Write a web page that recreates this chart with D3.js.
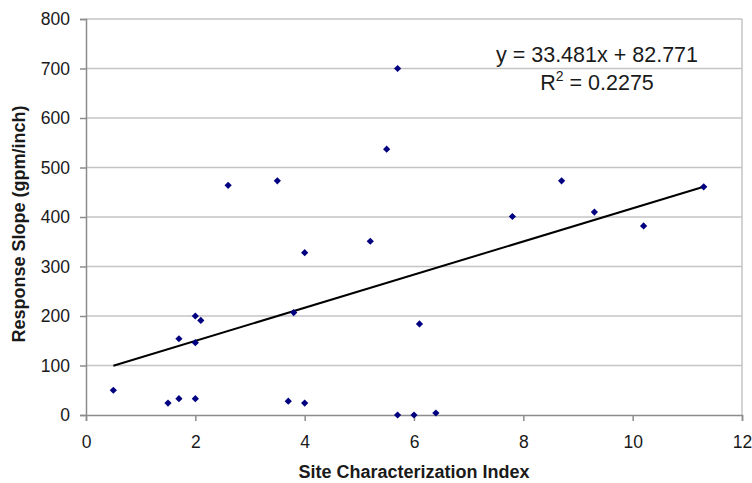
<!DOCTYPE html>
<html>
<head>
<meta charset="utf-8">
<script src="https://cdn.jsdelivr.net/npm/d3@7"></script>
<style>
  html, body { margin: 0; padding: 0; background: #fff; }
  svg { display: block; font-family: "Liberation Sans", Arial, sans-serif; }
</style>
</head>
<body>
<svg id="chart" width="752" height="483"></svg>
<script>
// Data
const xValues = [0.5, 1.5, 1.7, 2.0, 1.7, 2.0, 2.1, 2.0, 2.6, 3.5, 3.7, 3.8, 4.0, 4.0, 5.2, 5.5, 5.7, 5.7, 6.0, 6.1, 6.4, 7.8, 8.7, 9.3, 10.2, 11.3];
const yValues = [50, 24, 33, 33, 154, 200, 191, 146, 464, 473, 28, 207, 24, 328, 351, 537, 700, 0, 0, 184, 4, 401, 473, 410, 382, 461];
const trendSlope = [33.481];
const trendIntercept = [82.771];
const rSquared = ["0.2275"];
const xTicks = [0, 2, 4, 6, 8, 10, 12];
const yTicks = [0, 100, 200, 300, 400, 500, 600, 700, 800];
const xTitle = "Site Characterization Index";
const yTitle = "Response Slope (gpm/inch)";

const svg = d3.select("#chart");
const plot = { left: 86, right: 742, top: 19, bottom: 415 };

const x = d3.scaleLinear().domain([0, 12]).range([plot.left, plot.right]);
const y = d3.scaleLinear().domain([0, 800]).range([plot.bottom, plot.top]);

// Gridlines
svg.append("g")
  .selectAll("line")
  .data(yTicks.filter(d => d > 0))
  .join("line")
  .attr("x1", plot.left).attr("x2", plot.right)
  .attr("y1", d => y(d)).attr("y2", d => y(d))
  .attr("stroke", "#c4c4c4").attr("stroke-width", 1.5);

// Right border
svg.append("line")
  .attr("x1", plot.right).attr("x2", plot.right)
  .attr("y1", plot.top).attr("y2", plot.bottom)
  .attr("stroke", "#c4c4c4").attr("stroke-width", 1.5);

// Axes
const xAxis = d3.axisBottom(x).tickValues(xTicks).tickSize(6).tickPadding(10).tickFormat(d3.format("d"));
const yAxis = d3.axisLeft(y).tickValues(yTicks).tickSize(6).tickPadding(10).tickFormat(d3.format("d"));

const gx = svg.append("g").attr("transform", `translate(0,${plot.bottom})`).call(xAxis);
const gy = svg.append("g").attr("transform", `translate(${plot.left},0)`).call(yAxis);

[gx, gy].forEach(g => {
  g.select(".domain").attr("stroke", "#8c8c8c").attr("stroke-width", 1.5);
  g.selectAll(".tick line").attr("stroke", "#8c8c8c").attr("stroke-width", 1.5);
  g.selectAll(".tick text")
    .attr("fill", "#1a1a1a")
    .style("font-family", '"Liberation Sans", Arial, sans-serif')
    .style("font-size", "17.5px");
});
gx.selectAll(".tick text").attr("dy", "0.95em");

// Trend line across the data range
const xExt = d3.extent(xValues);
const line = d3.line().x(d => x(d)).y(d => y(trendSlope[0] * d + trendIntercept[0]));
svg.append("path")
  .datum(xExt)
  .attr("d", line)
  .attr("fill", "none")
  .attr("stroke", "#000")
  .attr("stroke-width", 2);

// Points (diamonds)
const diamond = d3.symbol().type(d3.symbolSquare).size(26);
svg.append("g")
  .selectAll("path")
  .data(xValues.map((xv, i) => [xv, yValues[i]]))
  .join("path")
  .attr("d", diamond)
  .attr("transform", d => `translate(${x(d[0])},${y(d[1])}) rotate(45)`)
  .attr("fill", "#000080");

// Equation labels
const eq = svg.append("g")
  .style("font-family", '"Liberation Sans", Arial, sans-serif')
  .style("font-size", "21.5px")
  .attr("fill", "#1a1a1a");
eq.append("text")
  .attr("x", 597).attr("y", 62)
  .attr("text-anchor", "middle")
  .text(`y = ${trendSlope[0]}x + ${trendIntercept[0]}`);
const r2 = eq.append("text")
  .attr("x", 597).attr("y", 90)
  .attr("text-anchor", "middle");
r2.append("tspan").text("R");
r2.append("tspan").attr("dy", -9).style("font-size", "14px").text("2");
r2.append("tspan").attr("dy", 9).text(` = ${rSquared[0]}`);

// Axis titles
svg.append("text")
  .attr("x", (plot.left + plot.right) / 2)
  .attr("y", 478)
  .attr("text-anchor", "middle")
  .style("font-weight", "bold")
  .style("font-size", "18px")
  .attr("fill", "#1a1a1a")
  .text(xTitle);

svg.append("text")
  .attr("transform", `translate(25,${(plot.top + plot.bottom) / 2 + 7}) rotate(-90)`)
  .attr("text-anchor", "middle")
  .style("font-weight", "bold")
  .style("font-size", "18px")
  .attr("fill", "#1a1a1a")
  .text(yTitle);
</script>
</body>
</html>
